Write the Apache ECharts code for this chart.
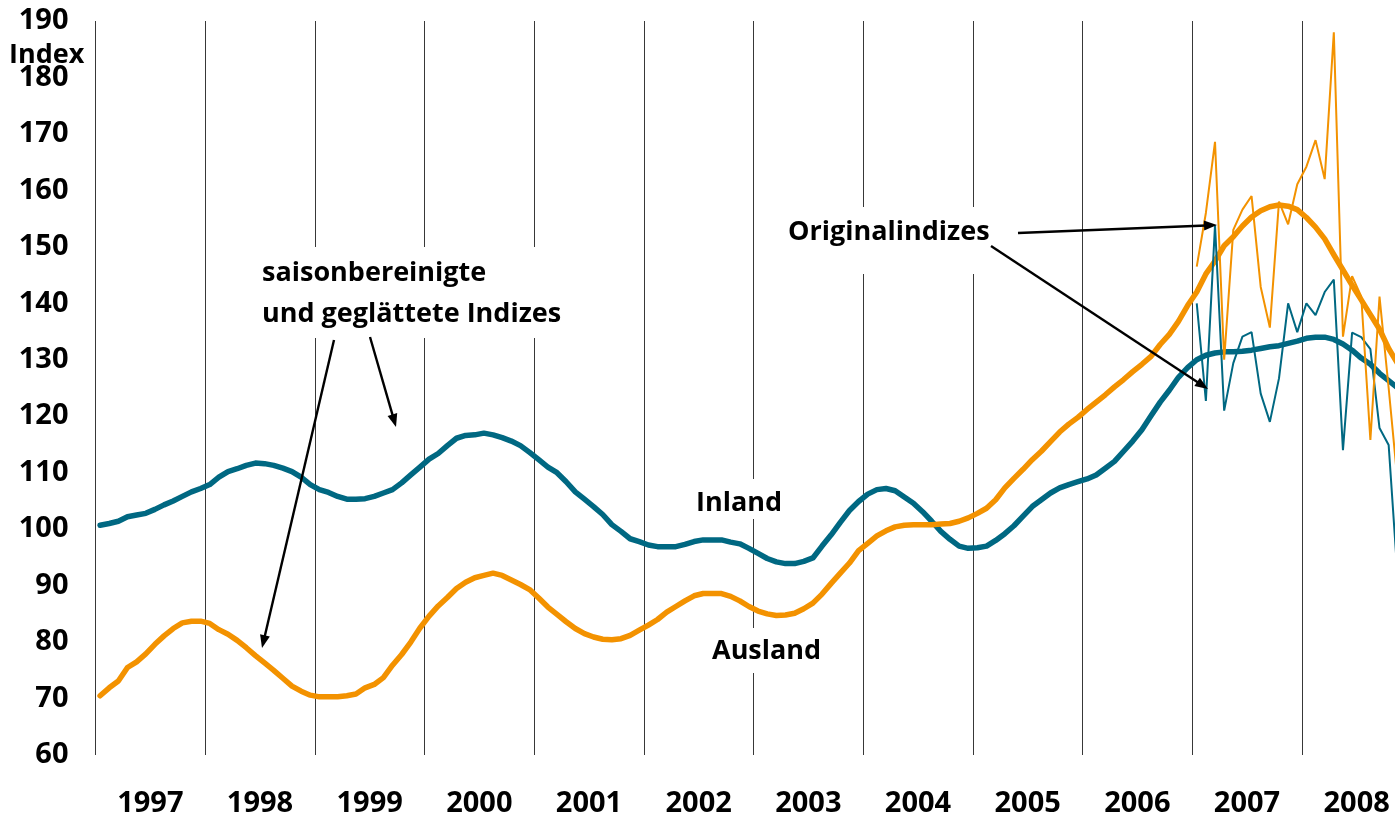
<!DOCTYPE html>
<html>
<head>
<meta charset="utf-8">
<script src="https://cdn.jsdelivr.net/npm/echarts@6/dist/echarts.min.js"></script>
<style>
html,body{margin:0;padding:0;background:#fff;}
#chart{width:1395px;height:818px;}
</style>
</head>
<body>
<div id="chart"></div>
<script>
// Year tick labels (x axis)
const years = ['1997','1998','1999','2000','2001','2002','2003','2004','2005','2006','2007','2008'];

// Saisonbereinigte und geglättete Indizes, monthly Jan 1997 .. Nov 2008
const inlandSmooth = [
100.7,101.0,101.4,102.2,102.5,102.8,103.5,104.3,105.0,105.8,106.6,107.2,
107.9,109.2,110.2,110.7,111.3,111.7,111.6,111.3,110.8,110.2,109.2,107.9,
107.0,106.5,105.8,105.3,105.3,105.4,105.8,106.4,107.0,108.2,109.6,111.0,
112.4,113.4,114.8,116.1,116.6,116.7,117.0,116.7,116.2,115.6,114.8,113.6,
112.3,111.0,110.0,108.4,106.6,105.3,104.0,102.6,100.8,99.6,98.3,97.8,
97.2,96.9,96.9,96.9,97.3,97.8,98.1,98.1,98.1,97.7,97.4,96.6,
95.7,94.8,94.2,93.9,93.9,94.3,94.9,97.0,99.0,101.2,103.3,104.9,
106.2,107.0,107.2,106.8,105.7,104.6,103.1,101.4,99.6,98.2,97.0,96.6,
96.7,97.0,98.0,99.2,100.6,102.3,104.0,105.2,106.4,107.3,107.9,108.4,
108.9,109.6,110.8,112.0,113.8,115.6,117.6,120.1,122.5,124.6,126.9,128.6,
130.0,130.8,131.2,131.4,131.4,131.5,131.7,132.0,132.3,132.5,132.9,133.3,
133.8,134.0,134.0,133.6,132.8,131.7,130.3,129.2,127.6,126.3,125.0
];
const auslandSmooth = [
70.5,71.9,73.1,75.5,76.5,77.9,79.6,81.1,82.4,83.4,83.7,83.7,
83.3,82.2,81.4,80.3,79.0,77.6,76.3,75.0,73.6,72.2,71.3,70.6,
70.3,70.3,70.3,70.5,70.8,71.9,72.5,73.7,75.9,77.8,80.0,82.5,
84.6,86.4,87.9,89.5,90.6,91.4,91.8,92.2,91.8,91.0,90.2,89.3,
87.8,86.2,84.9,83.6,82.4,81.5,80.9,80.5,80.4,80.6,81.2,82.1,
83.0,84.0,85.3,86.3,87.3,88.2,88.6,88.6,88.6,88.1,87.3,86.3,
85.5,85.0,84.7,84.8,85.1,85.9,86.9,88.5,90.4,92.2,94.0,96.2,
97.5,98.8,99.7,100.4,100.7,100.8,100.8,100.8,100.9,101.0,101.4,102.0,
102.8,103.7,105.2,107.3,109.0,110.6,112.3,113.8,115.5,117.2,118.6,119.8,
121.2,122.5,123.8,125.2,126.5,127.9,129.2,130.6,132.7,134.5,136.8,139.6,
142.0,145.2,147.5,150.2,151.8,153.7,155.3,156.4,157.1,157.4,157.2,156.6,
155.2,153.5,151.4,148.6,145.9,143.2,140.6,138.0,135.4,132.0,129.3
];
// Originalindizes, monthly Jan 2007 .. Nov 2008
const origStart = 120; // month index of Jan 2007
const inlandOrig = [
140.0,122.7,153.8,121.0,129.4,134.1,134.9,124.0,119.0,126.7,140.0,134.9,
140.0,137.9,142.0,144.2,114.0,134.8,134.0,131.9,117.9,114.9,91.0
];
const auslandOrig = [
146.5,156.0,168.6,130.0,153.0,156.6,159.0,142.9,135.7,158.0,154.0,161.1,
164.2,168.9,162.0,188.0,134.1,144.8,141.2,115.8,141.2,125.0,108.0
];

const TEAL = '#006882';
const ORANGE = '#F39200';
const FONT = '"Open Sans", "Noto Sans", sans-serif';

const toPairs = (arr, start) => arr.map((v, i) => [start + i + 0.5, v]);

function arrow(x1, y1, x2, y2) {
  const L = 13, W = 5;
  const dx = x2 - x1, dy = y2 - y1;
  const len = Math.sqrt(dx*dx + dy*dy);
  const ux = dx/len, uy = dy/len;
  const bx = x2 - ux*L, by = y2 - uy*L;
  return [
    { type: 'line', z: 10, shape: { x1: x1, y1: y1, x2: bx + ux*2, y2: by + uy*2 },
      style: { stroke: '#000', lineWidth: 2.4 } },
    { type: 'polygon', z: 10, shape: { points: [[x2, y2], [bx - uy*W, by + ux*W], [bx + uy*W, by - ux*W]] },
      style: { fill: '#000' } }
  ];
}

function label(text, x, y) {
  return { type: 'text', z: 5, x: x, y: y,
    style: { text: text, font: 'bold 27px ' + FONT, fill: '#000',
             align: 'left', verticalAlign: 'middle', textAlign: 'left', textVerticalAlign: 'middle' } };
}
function box(x, y, w, h) {
  return { type: 'rect', z: 1, shape: { x: x, y: y, width: w, height: h }, style: { fill: '#fff' } };
}

const chart = echarts.init(document.getElementById('chart'), null, { renderer: 'canvas' });

const option = {
  animation: false,
  backgroundColor: '#fff',
  grid: { left: 95.5, top: 21, width: 1316, height: 734, containLabel: false, outerBoundsMode: 'none' },
  xAxis: [
    { type: 'value', gridIndex: 0, min: 0, max: 144, interval: 12,
      axisLine: { show: false }, axisTick: { show: false }, axisLabel: { show: false },
      splitLine: { show: true, lineStyle: { color: '#383838', width: 1 } } },
    { type: 'value', gridIndex: 0, min: 0, max: 144, interval: 6, position: 'bottom',
      axisLine: { show: false }, axisTick: { show: false }, splitLine: { show: false },
      axisLabel: { show: true, margin: 34, color: '#000', fontSize: 29, fontWeight: 'bold', fontFamily: FONT,
        formatter: function (v) { return (v % 12 === 6) ? years[(v - 6) / 12] : ''; } } }
  ],
  yAxis: { type: 'value', min: 60, max: 190, interval: 10,
    axisLine: { show: false }, axisTick: { show: false }, splitLine: { show: false },
    axisLabel: { margin: 27, color: '#000', fontSize: 29, fontWeight: 'bold', fontFamily: FONT, padding: [8, 0, 0, 0] } },
  series: [
    { name: 'Inland', type: 'line', xAxisIndex: 0, data: toPairs(inlandSmooth, 0), showSymbol: false,
      lineStyle: { color: TEAL, width: 5.5, cap: 'round', join: 'round' }, itemStyle: { color: TEAL }, z: 3 },
    { name: 'Ausland', type: 'line', xAxisIndex: 0, data: toPairs(auslandSmooth, 0), showSymbol: false,
      lineStyle: { color: ORANGE, width: 5.5, cap: 'round', join: 'round' }, itemStyle: { color: ORANGE }, z: 3 },
    { name: 'Inland Original', type: 'line', xAxisIndex: 0, data: toPairs(inlandOrig, origStart), showSymbol: false,
      lineStyle: { color: TEAL, width: 2 }, itemStyle: { color: TEAL }, z: 4 },
    { name: 'Ausland Original', type: 'line', xAxisIndex: 0, data: toPairs(auslandOrig, origStart), showSymbol: false,
      lineStyle: { color: ORANGE, width: 2 }, itemStyle: { color: ORANGE }, z: 4 }
  ],
  graphic: { elements: [
    box(256, 247, 308, 91),
    box(778, 207, 214, 67),
    box(690, 479, 94, 40),
    box(706, 628, 120, 45),
    label('Index', 9, 55),
    label('saisonbereinigte', 262, 273),
    label('und geglättete Indizes', 262, 314),
    label('Originalindizes', 788, 232),
    label('Inland', 696, 503),
    label('Ausland', 712, 651)
  ].concat(
    arrow(1018, 233, 1217, 225),
    arrow(991, 246, 1208, 389),
    arrow(334, 340, 262, 648),
    arrow(370, 337, 396, 427)
  ) }
};
chart.setOption(option);
</script>
</body>
</html>
